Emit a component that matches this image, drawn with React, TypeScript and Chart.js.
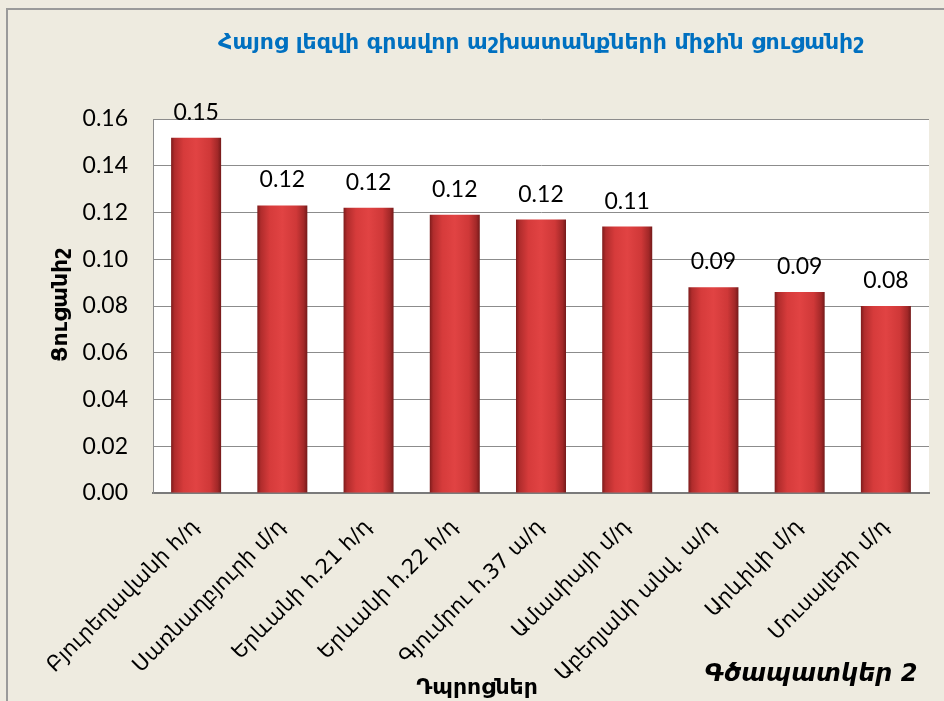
import React, { useEffect, useRef } from "react";
import { Chart, registerables } from "chart.js";

Chart.register(...registerables);

const categories: string[] = [
  "Բյուրեղավանի հ/դ",
  "Սառնաղբյուրի մ/դ",
  "Երևանի հ.21 հ/դ",
  "Երևանի հ.22 հ/դ",
  "Գյումրու հ.37 ա/դ",
  "Ամասիայի մ/դ",
  "Աբեղյանի անվ. ա/դ",
  "Արևիկի մ/դ",
  "Մուսալեռի մ/դ",
];
const values: number[] = [0.152, 0.123, 0.122, 0.119, 0.117, 0.114, 0.088, 0.086, 0.08];

const titleText = "Հայոց լեզվի գրավոր աշխատանքների միջին ցուցանիշ";
const yTitleText = "Ցուցանիշ";
const xTitleText = "Դպրոցներ";
const figureText = "Գծապատկեր 2";
const yMin = 0;
const yMax = 0.16;
const yStep = 0.02;

const BAR_PCT = 0.58;
const NUM_FONT = "Lato, 'Open Sans', sans-serif";
const ARM_FONT = "'DejaVu Sans', sans-serif";

const decorPlugin = {
  id: "decor",
  beforeDraw(chart: any) {
    const { ctx, width, height, chartArea } = chart;
    ctx.save();
    ctx.fillStyle = "#EEEBE0";
    ctx.fillRect(0, 0, width, height);
    ctx.strokeStyle = "#9A9A9A";
    ctx.lineWidth = 2;
    ctx.strokeRect(7, 9, width + 20, height + 20);
    ctx.fillStyle = "#FFFFFF";
    ctx.fillRect(chartArea.left, chartArea.top, chartArea.right - chartArea.left, chartArea.bottom - chartArea.top);
    ctx.restore();
  },
  afterDatasetsDraw(chart: any) {
    const { ctx, chartArea } = chart;
    ctx.save();
    // data labels
    const meta = chart.getDatasetMeta(0);
    ctx.fillStyle = "#000000";
    ctx.font = `23px ${NUM_FONT}`;
    ctx.textAlign = "center";
    ctx.textBaseline = "alphabetic";
    meta.data.forEach((el: any, i: number) => {
      ctx.fillText(values[i].toFixed(2), el.x, el.y - 18);
    });
    // title
    ctx.fillStyle = "#0070C0";
    ctx.font = `bold 22px ${ARM_FONT}`;
    ctx.textBaseline = "middle";
    ctx.fillText(titleText, (chartArea.left + chartArea.right) / 2, 43);
    // y title
    ctx.fillStyle = "#000000";
    ctx.save();
    ctx.translate(61, 305);
    ctx.rotate(-Math.PI / 2);
    ctx.font = `bold 22px ${ARM_FONT}`;
    ctx.fillText(yTitleText, 0, 0);
    ctx.restore();
    // x title
    ctx.font = `bold 22px ${ARM_FONT}`;
    ctx.fillText(xTitleText, 477, 688);
    // figure label
    ctx.font = `italic bold 24px ${ARM_FONT}`;
    ctx.fillText(figureText, 811, 675);
    ctx.restore();
  },
};

function barGradient(context: any) {
  const chart = context.chart;
  const xScale = chart.scales && chart.scales.x;
  if (!chart.chartArea || !xScale) return "#D23A3A";
  const cx = xScale.getPixelForValue(context.dataIndex);
  const w = (xScale.width / categories.length) * BAR_PCT;
  const g = chart.ctx.createLinearGradient(cx - w / 2, 0, cx + w / 2, 0);
  g.addColorStop(0, "#7E1C1C");
  g.addColorStop(0.07, "#B02C2C");
  g.addColorStop(0.25, "#D63B3B");
  g.addColorStop(0.5, "#E14343");
  g.addColorStop(0.78, "#CF3838");
  g.addColorStop(0.93, "#A22828");
  g.addColorStop(1, "#741A1A");
  return g;
}

export default function App() {
  const canvasRef = useRef<HTMLCanvasElement | null>(null);

  useEffect(() => {
    if (!canvasRef.current) return;
    const chart = new Chart(canvasRef.current, {
      type: "bar",
      data: {
        labels: categories,
        datasets: [
          {
            data: values,
            backgroundColor: barGradient as any,
            borderWidth: 0,
            barPercentage: BAR_PCT,
            categoryPercentage: 1,
          },
        ],
      },
      options: {
        animation: false,
        responsive: false,
        devicePixelRatio: 1,
        layout: { padding: { top: 119, left: 0, right: 15, bottom: 0 } },
        plugins: {
          legend: { display: false },
          title: { display: false },
          tooltip: { enabled: false },
        },
        scales: {
          x: {
            grid: { display: false, drawTicks: false },
            border: { display: true, color: "#7A7A7A", width: 2 },
            ticks: {
              autoSkip: false,
              minRotation: 45,
              maxRotation: 45,
              padding: 22,
              color: "#000000",
              font: { family: ARM_FONT, size: 21 },
            },
            afterFit(scale: any) {
              scale.height = 208;
            },
          },
          y: {
            min: yMin,
            max: yMax,
            grid: { color: "#8C8C8C", drawTicks: false, lineWidth: 1 },
            border: { display: true, color: "#8C8C8C", width: 1 },
            ticks: {
              stepSize: yStep,
              padding: 25,
              color: "#000000",
              font: { family: NUM_FONT, size: 23 },
              callback: (v: any) => Number(v).toFixed(2),
            },
            afterFit(scale: any) {
              scale.width = 153;
            },
          },
        },
      },
      plugins: [decorPlugin],
    });
    return () => chart.destroy();
  }, []);

  return (
    <div style={{ position: "absolute", left: 0, top: 0, width: 944, height: 701 }}>
      <canvas ref={canvasRef} width={944} height={701} style={{ display: "block" }} />
    </div>
  );
}
